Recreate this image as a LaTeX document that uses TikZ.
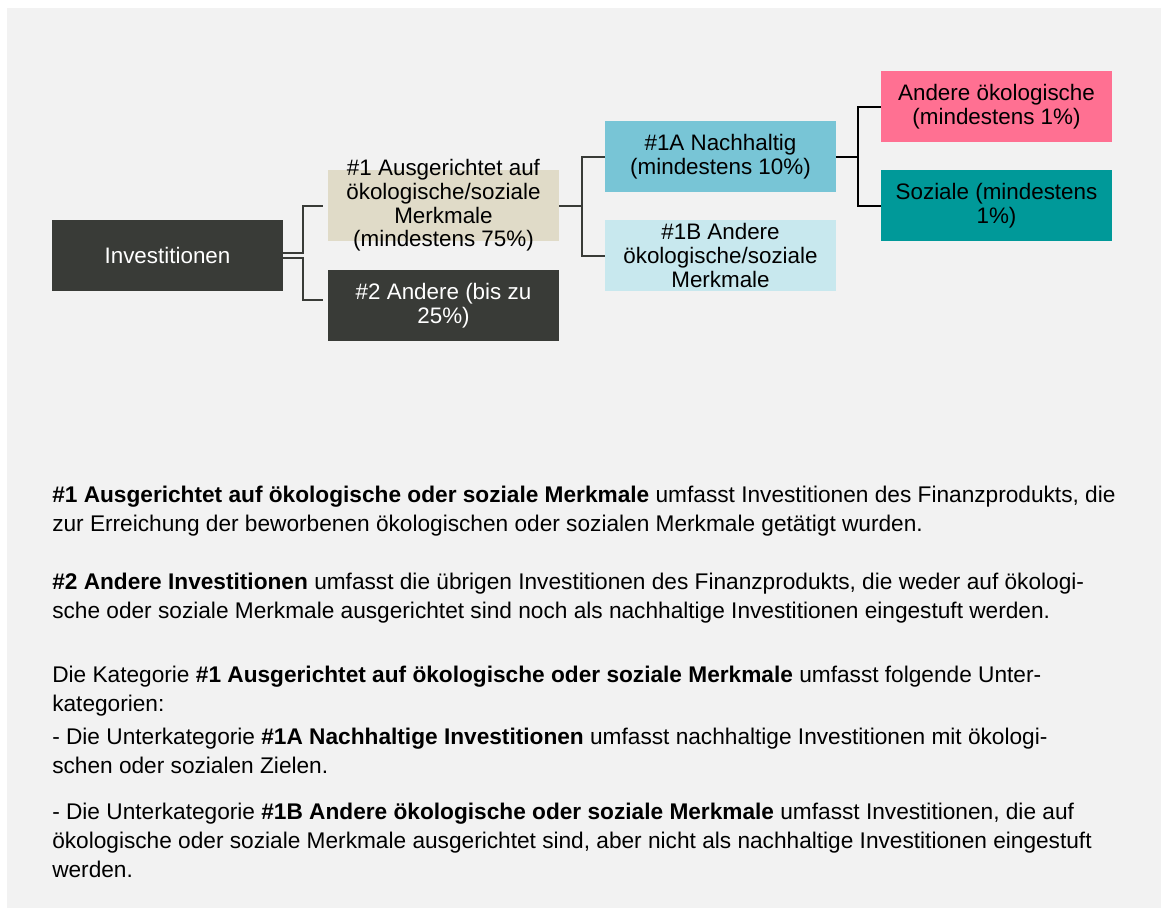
\documentclass[tikz,border=0pt]{standalone}
\usepackage{fontspec}
\setmainfont{Liberation Sans}
\usetikzlibrary{positioning}
\definecolor{bggray}{HTML}{F2F2F2}
\definecolor{darkbox}{HTML}{393B37}
\definecolor{beige}{HTML}{E0DBC8}
\definecolor{sustblue}{HTML}{78C5D6}
\definecolor{otherblue}{HTML}{C8E8EE}
\definecolor{ecopink}{HTML}{FF7092}
\definecolor{socteal}{HTML}{009999}
\newcommand{\boxfont}{\fontsize{16.8pt}{17.8pt}\selectfont}
\newcommand{\bodyfont}{\fontsize{17pt}{21.5pt}\selectfont}

\tikzset{
  catbox/.style={minimum width=173.25pt, minimum height=53.25pt, inner sep=0pt,
    align=center, font=\boxfont},
  darkcat/.style={catbox, fill=darkbox, text=white},
  link/.style={draw=darkbox, line width=1.5pt},
  bodytext/.style={inner sep=0pt, align=left, font=\bodyfont, anchor=base west}
}

\begin{document}
\begin{tikzpicture}[x=0.75pt, y=-0.75pt]
  \useasboundingbox (0,0) rectangle (1161,908);
  \fill[bggray] (7,8) rectangle (1161,908);

  % tree
  \node[darkcat] (inv) at (167.5,255.5) {Investitionen};
  \node[catbox, fill=beige, label={[align=center, font=\boxfont]center:\#1 Ausgerichtet auf\\ökologische/soziale\\Merkmale\\(mindestens 75\%)}] (cat1) at (443.5,205.5) {};
  \node[darkcat] (cat2) at (443.5,305.5) {\#2 Andere (bis zu\\25\%)};
  \node[catbox, fill=sustblue] (cat1a) at (720.5,156.5) {\#1A Nachhaltig\\(mindestens 10\%)};
  \node[catbox, fill=otherblue] (cat1b) at (720.5,255.5) {\#1B Andere\\ökologische/soziale\\Merkmale};
  \node[catbox, fill=ecopink] (ecol) at (996.5,106.5) {Andere ökologische\\(mindestens 1\%)};
  \node[catbox, fill=socteal] (soc) at (996.5,205.5) {Soziale (mindestens\\1\%)};

  \draw[link, shorten >=3.5pt] ([yshift=1.6pt]inv.east) -- ++(20,0) |- (cat1.west);
  \draw[link, shorten >=3.5pt] ([yshift=-1.6pt]inv.east) -- ++(20,0) |- ([yshift=4pt]cat2.west);
  \draw[link] (cat1.east) -- ++(23,0) |- (cat1a.west);
  \draw[link] (cat1.east) -- ++(23,0) |- (cat1b.west);
  \draw[link, draw=black] (cat1a.east) -- ++(22,0) |- (ecol.west);
  \draw[link, draw=black] (cat1a.east) -- ++(22,0) |- (soc.west);

  % explanations (placed at the baseline of their last line)
  \node[bodytext] (txt1) at (52,531) {\textbf{\#1 Ausgerichtet auf ökologische oder soziale Merkmale} umfasst Investitionen des Finanzprodukts, die\\zur Erreichung der beworbenen ökologischen oder sozialen Merkmale getätigt wurden.};
  \node[bodytext] (txt2) at (52,618) {\textbf{\#2 Andere Investitionen} umfasst die übrigen Investitionen des Finanzprodukts, die weder auf ökologi-\\sche oder soziale Merkmale ausgerichtet sind noch als nachhaltige Investitionen eingestuft werden.};
  \node[bodytext] (txt3) at (52,711) {Die Kategorie \textbf{\#1 Ausgerichtet auf ökologische oder soziale Merkmale} umfasst folgende Unter-\\kategorien:};
  \node[bodytext] (txt4) at (52,773) {- Die Unterkategorie \textbf{\#1A Nachhaltige Investitionen} umfasst nachhaltige Investitionen mit ökologi-\\schen oder sozialen Zielen.};
  \node[bodytext] (txt5) at (52,877) {- Die Unterkategorie \textbf{\#1B Andere ökologische oder soziale Merkmale} umfasst Investitionen, die auf\\ökologische oder soziale Merkmale ausgerichtet sind, aber nicht als nachhaltige Investitionen eingestuft\\werden.};
\end{tikzpicture}
\end{document}
